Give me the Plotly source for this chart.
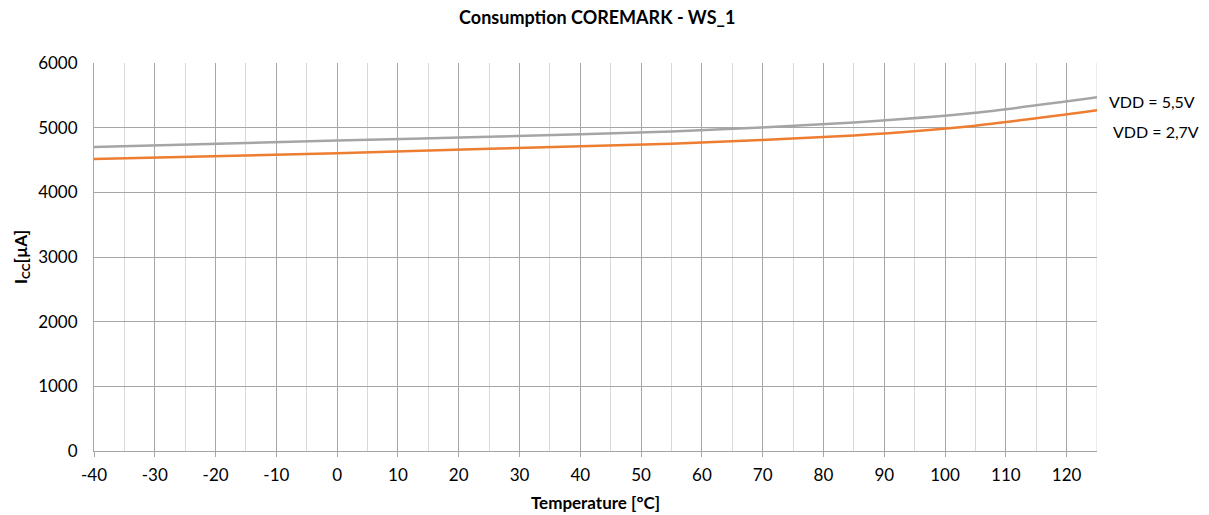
import plotly.graph_objects as go

# Supply current versus temperature for the two supply voltages
temperature_c = [-40, 0, 25, 55, 85, 105, 125]
icc_vdd_5v5 = [4700, 4800, 4860, 4940, 5080, 5230, 5470]
icc_vdd_2v7 = [4515, 4605, 4675, 4750, 4880, 5030, 5270]

x_ticks = list(range(-40, 121, 10))
y_ticks = list(range(0, 6001, 1000))

FONT = "Lato, Carlito, 'Open Sans', sans-serif"

fig = go.Figure()
fig.add_trace(go.Scatter(
    x=temperature_c, y=icc_vdd_5v5, mode="lines", name="VDD = 5,5V",
    line=dict(color="#A5A5A5", width=2.5, shape="spline", smoothing=0.6),
))
fig.add_trace(go.Scatter(
    x=temperature_c, y=icc_vdd_2v7, mode="lines", name="VDD = 2,7V",
    line=dict(color="#ED7D31", width=2.5, shape="spline", smoothing=0.6),
))

# Series labels at the right end of each curve
fig.add_annotation(x=1.01, xref="paper", y=icc_vdd_5v5[-1] - 60, yref="y",
                   text="VDD = 5,5V", showarrow=False, xanchor="left",
                   font=dict(size=16, color="#000"))
fig.add_annotation(x=1.014, xref="paper", y=icc_vdd_2v7[-1] - 330, yref="y",
                   text="VDD = 2,7V", showarrow=False, xanchor="left",
                   font=dict(size=16, color="#000"))

fig.update_layout(
    width=1209, height=515,
    margin=dict(l=94, r=112, t=63, b=64),
    paper_bgcolor="white", plot_bgcolor="white",
    showlegend=False,
    font=dict(family=FONT, size=16, color="#000"),
    title=dict(text="<b>Consumption COREMARK - WS_1</b>", x=0.494, xanchor="center",
               y=0.965, yanchor="middle", font=dict(size=18)),
    xaxis=dict(
        range=[-40, 125], tickvals=x_ticks, ticktext=[str(v) for v in x_ticks],
        showgrid=True, gridcolor="#A6A6A6", gridwidth=1,
        minor=dict(dtick=5, tick0=-40, showgrid=True, gridcolor="#D9D9D9", gridwidth=1),
        ticks="outside", ticklen=5, tickcolor="#A6A6A6",
        showline=True, linecolor="#A6A6A6", linewidth=1, zeroline=False,
        ticklabelstandoff=4, automargin=False,
        title=dict(text="<b>Temperature [°C]</b>", standoff=12, font=dict(size=17)),
        tickfont=dict(size=17),
        mirror=False,
    ),
    yaxis=dict(
        range=[0, 6000], tickvals=y_ticks,
        showgrid=True, gridcolor="#A6A6A6", gridwidth=1,
        ticks="", showline=True, linecolor="#A6A6A6", linewidth=1, zeroline=False,
        ticklabelstandoff=12, automargin=False,
        title=dict(text="<b>I<sub>CC</sub>[µA]</b>", standoff=6, font=dict(size=17)),
        tickfont=dict(size=17),
    ),
)

fig.add_shape(type="line", xref="x", yref="paper", x0=125, x1=125, y0=0, y1=1,
              line=dict(color="#D9D9D9", width=1), layer="below")

fig.write_html("out.html")
